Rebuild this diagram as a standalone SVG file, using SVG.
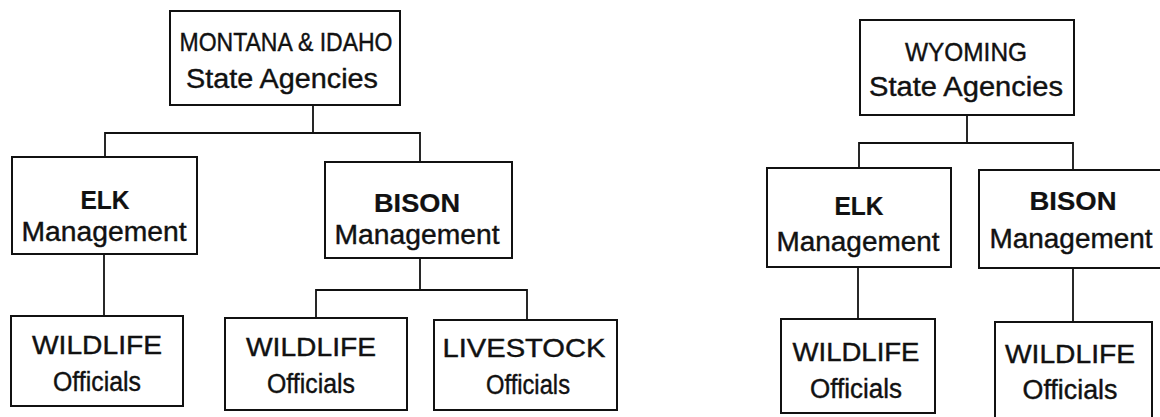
<svg xmlns="http://www.w3.org/2000/svg" width="1160" height="417" viewBox="0 0 1160 417">
  <style>
    .box { fill: #fff; stroke: #111; stroke-width: 2; }
    .wire { fill: none; stroke: #111; stroke-width: 1.8; }
    text { font-family: "Liberation Sans", Arial, sans-serif; font-size: 27px; fill: #111; stroke: #111; stroke-width: 0.4; text-anchor: middle; }
    .cap { font-size: 25.5px; }
    .b { font-weight: bold; font-size: 25.5px; stroke-width: 0.2; }
  </style>
  <rect width="1160" height="417" fill="#fff"/>

  <!-- connectors -->
  <g id="connectors" class="wire">
    <!-- Montana & Idaho -->
    <path d="M313 105 V133 M105 157 V133 H420 V162"/>
    <path d="M104 254 V316"/>
    <path d="M420 258 V290 M316 318 V290 H527 V320"/>
    <!-- Wyoming -->
    <path d="M967 115 V143 M859 168 V143 H1073 V170"/>
    <path d="M858 267 V319"/>
    <path d="M1073 268 V322"/>
  </g>

  <!-- Montana & Idaho tree -->
  <g id="mt-agencies">
    <rect class="box" x="170" y="11" width="230" height="94"/>
    <text class="cap" x="286" y="51" textLength="213" lengthAdjust="spacingAndGlyphs">MONTANA &amp; IDAHO</text>
    <text x="282" y="88" textLength="192" lengthAdjust="spacingAndGlyphs">State Agencies</text>
  </g>
  <g id="mt-elk">
    <rect class="box" x="12" y="157" width="185" height="97"/>
    <text class="b" x="105" y="209" textLength="49" lengthAdjust="spacingAndGlyphs">ELK</text>
    <text x="104" y="241" textLength="165" lengthAdjust="spacingAndGlyphs">Management</text>
  </g>
  <g id="mt-bison">
    <rect class="box" x="325" y="162" width="187" height="96"/>
    <text class="b" x="417" y="212" textLength="86" lengthAdjust="spacingAndGlyphs">BISON</text>
    <text x="417" y="244" textLength="165" lengthAdjust="spacingAndGlyphs">Management</text>
  </g>
  <g id="mt-elk-wildlife">
    <rect class="box" x="11" y="316" width="172" height="90"/>
    <text class="cap" x="97" y="354" textLength="130" lengthAdjust="spacingAndGlyphs">WILDLIFE</text>
    <text x="97" y="391" textLength="88" lengthAdjust="spacingAndGlyphs">Officials</text>
  </g>
  <g id="mt-bison-wildlife">
    <rect class="box" x="225" y="318" width="182" height="92"/>
    <text class="cap" x="311" y="356" textLength="130" lengthAdjust="spacingAndGlyphs">WILDLIFE</text>
    <text x="311" y="393" textLength="88" lengthAdjust="spacingAndGlyphs">Officials</text>
  </g>
  <g id="mt-bison-livestock">
    <rect class="box" x="434" y="320" width="183" height="90"/>
    <text class="cap" x="524" y="357" textLength="163" lengthAdjust="spacingAndGlyphs">LIVESTOCK</text>
    <text x="528" y="394" textLength="84" lengthAdjust="spacingAndGlyphs">Officials</text>
  </g>

  <!-- Wyoming tree -->
  <g id="wy-agencies">
    <rect class="box" x="860" y="20" width="214" height="95"/>
    <text class="cap" x="966" y="61" textLength="122" lengthAdjust="spacingAndGlyphs">WYOMING</text>
    <text x="966" y="96" textLength="194" lengthAdjust="spacingAndGlyphs">State Agencies</text>
  </g>
  <g id="wy-elk">
    <rect class="box" x="767" y="168" width="184" height="99"/>
    <text class="b" x="859" y="215" textLength="49" lengthAdjust="spacingAndGlyphs">ELK</text>
    <text x="858" y="251" textLength="163" lengthAdjust="spacingAndGlyphs">Management</text>
  </g>
  <g id="wy-bison">
    <rect class="box" x="979" y="170" width="190" height="98"/>
    <text class="b" x="1073" y="210" textLength="87" lengthAdjust="spacingAndGlyphs">BISON</text>
    <text x="1071" y="248" textLength="163" lengthAdjust="spacingAndGlyphs">Management</text>
  </g>
  <g id="wy-elk-wildlife">
    <rect class="box" x="781" y="319" width="154" height="94"/>
    <text class="cap" x="856" y="361" textLength="127" lengthAdjust="spacingAndGlyphs">WILDLIFE</text>
    <text x="856" y="398" textLength="92" lengthAdjust="spacingAndGlyphs">Officials</text>
  </g>
  <g id="wy-bison-wildlife">
    <rect class="box" x="995" y="322" width="157" height="100"/>
    <text class="cap" x="1070" y="363" textLength="130" lengthAdjust="spacingAndGlyphs">WILDLIFE</text>
    <text x="1070" y="399" textLength="95" lengthAdjust="spacingAndGlyphs">Officials</text>
  </g>
</svg>
